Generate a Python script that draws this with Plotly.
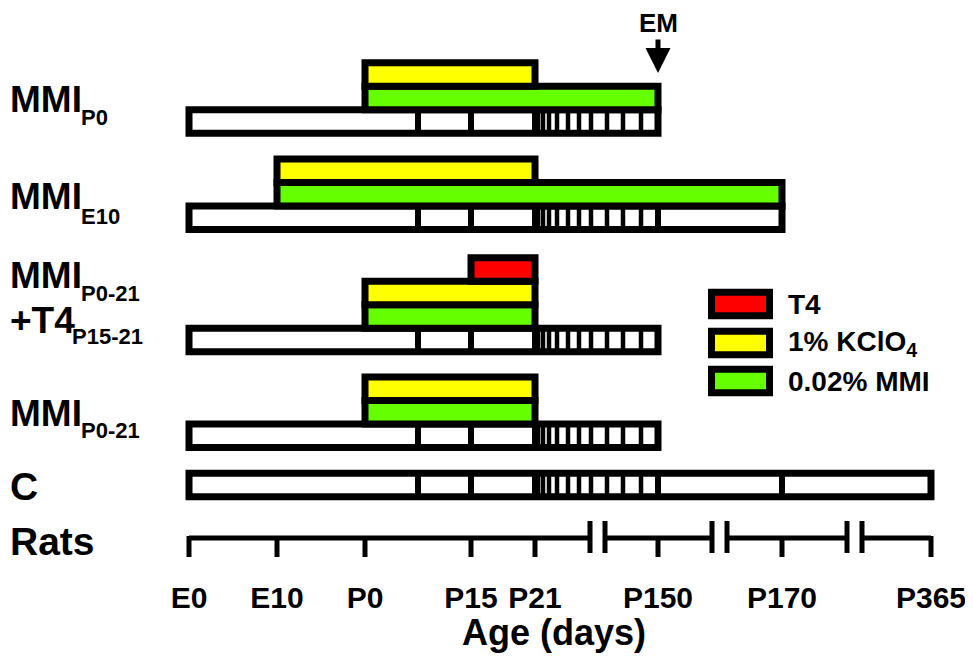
"""
Timeline schematic of MMI / KClO4 / T4 treatments in rats.
"""

import plotly.graph_objects as go

# ---------------------------------------------------------------------------
# DATA
# ---------------------------------------------------------------------------

# schematic positions of the age landmarks along the time axis (not linear)
AGE_LABELS = ["E0", "E10", "P0", "P15", "P21", "P150", "P170", "P365"]
AGE_POS = [0, 88, 176, 282, 346, 469, 593, 742]
POS = dict(zip(AGE_LABELS, AGE_POS))

# intermediate dividers in the white age bars (P7 and the weekly stripes after P21)
MID_DIVIDERS = [229]
STRIPES = [349, 354, 360, 368, 379, 390, 402, 418, 434, 452]

# axis breaks on the "Rats" scale (pairs of break marks)
BREAKS = [(401, 416), (523, 538), (658, 673)]

GROUPS = ["MMI_P0", "MMI_E10", "MMI_P0-21+T4_P15-21", "MMI_P0-21", "C"]
TIMELINE_END = ["P150", "P170", "P150", "P150", "P365"]

MMI_START = ["P0", "E10", "P0", "P0", None]
MMI_END = ["P150", "P170", "P21", "P21", None]
KCLO4_START = ["P0", "E10", "P0", "P0", None]
KCLO4_END = ["P21", "P21", "P21", "P21", None]
T4_START = [None, None, "P15", None, None]
T4_END = [None, None, "P21", None, None]

LEGEND_NAMES = ["T4", "1% KClO<sub>4</sub>", "0.02% MMI"]

# ---------------------------------------------------------------------------
# STYLE
# ---------------------------------------------------------------------------

FONT = "Liberation Sans"
RED = "#FF0000"
YELLOW = "#FFFF00"
GREEN = "#66FF00"
BORDER = 7
BAND = 23.5

OFF = 8                 # page margin the browser adds around the figure
W, H = 973 - OFF, 661 - OFF
AXIS_PX = 575           # page row of the bottom of the plot area
X_ORIGIN = 189          # page column of E0

WHITE_Y = [121.5, 217.7, 340, 435.7, 485]   # band centres of the age bars
RATS_Y = 538

fig = go.Figure()


def band(y, start, end, color):
    fig.add_trace(go.Bar(
        orientation="h",
        y=[y], base=[POS[start]], x=[POS[end] - POS[start]],
        width=BAND,
        marker=dict(color=color, line=dict(color="black", width=BORDER)),
        hoverinfo="skip", showlegend=False,
    ))


# white age bars
for i, g in enumerate(GROUPS):
    band(WHITE_Y[i], "E0", TIMELINE_END[i], "white")

# treatment bands stacked above the age bars
for i, g in enumerate(GROUPS):
    if MMI_START[i]:
        band(WHITE_Y[i] - BAND, MMI_START[i], MMI_END[i], GREEN)
    if KCLO4_START[i]:
        band(WHITE_Y[i] - 2 * BAND, KCLO4_START[i], KCLO4_END[i], YELLOW)
    if T4_START[i]:
        band(WHITE_Y[i] - 3 * BAND, T4_START[i], T4_END[i], RED)

# dividers inside the age bars
for i, g in enumerate(GROUPS):
    end = POS[TIMELINE_END[i]]
    main = MID_DIVIDERS + [POS["P15"], POS["P21"]] + [p for p in (POS["P150"], POS["P170"]) if p < end - 1]
    for divs, lw in ((main, 6), (STRIPES, 4.5)):
        xs, ys = [], []
        for d in divs:
            xs += [d, d, None]
            ys += [WHITE_Y[i] - BAND / 2, WHITE_Y[i] + BAND / 2, None]
        fig.add_trace(go.Scatter(x=xs, y=ys, mode="lines",
                                 line=dict(color="black", width=lw),
                                 hoverinfo="skip", showlegend=False))

# Rats time scale with breaks
seg_x, seg_y = [], []
edges = [POS["E0"]] + [v for b in BREAKS for v in b] + [POS["P365"]]
for a, b in zip(edges[::2], edges[1::2]):
    seg_x += [a, b, None]
    seg_y += [RATS_Y, RATS_Y, None]
for p in AGE_POS:
    seg_x += [p, p, None]
    seg_y += [RATS_Y - 2, RATS_Y + 19, None]
for a, b in BREAKS:
    for v in (a, b):
        seg_x += [v, v, None]
        seg_y += [RATS_Y - 17, RATS_Y + 15, None]
fig.add_trace(go.Scatter(x=seg_x, y=seg_y, mode="lines",
                         line=dict(color="black", width=5),
                         hoverinfo="skip", showlegend=False))

# ---------------------------------------------------------------------------
# Labels
# ---------------------------------------------------------------------------


def label(text, px, y, size, anchor="left"):
    # px is a page column; kept inside the figure's left edge
    fig.add_annotation(x=max(px - OFF, 0) / W, xref="paper", y=y, yref="y",
                       text=f"<b>{text}</b>", showarrow=False,
                       xanchor=anchor, yanchor="middle",
                       font=dict(family=FONT, size=size, color="black"))


BIG, SUB = 37, 22
label("MMI", 6, 99, BIG)
label("P0", 79, 117, SUB)
label("MMI", 6, 196, BIG)
label("E10", 79, 216, SUB)
label("MMI", 6, 275, BIG)
label("P0-21", 79, 293, SUB)
label("+T4", 4, 320, BIG)
label("P15-21", 70, 336, SUB)
label("MMI", 6, 413, BIG)
label("P0-21", 79, 430, SUB)
label("C", 8, 486, 39)
label("Rats", 8, 541, 39)

# legend
LEG_Y = [304, 343, 381]
for name, color, ly in zip(LEGEND_NAMES, [RED, YELLOW, GREEN], LEG_Y):
    fig.add_shape(type="rect", xref="x", yref="y",
                  x0=711.5 - X_ORIGIN, x1=769.5 - X_ORIGIN,
                  y0=ly - BAND / 2, y1=ly + BAND / 2,
                  fillcolor=color, line=dict(color="black", width=BORDER))
    label(name, 786, ly, 28)

# x axis title below the tick labels
fig.add_annotation(x=554 - X_ORIGIN, xref="x",
                   y=(AXIS_PX - 632) / (AXIS_PX - OFF), yref="paper",
                   text="<b>Age (days)</b>", showarrow=False,
                   xanchor="center", yanchor="middle",
                   font=dict(family=FONT, size=36, color="black"))

# EM arrow at P150
fig.add_annotation(x=POS["P150"], y=73, ax=POS["P150"], ay=23, axref="x", ayref="y",
                   text="<b>EM</b>", font=dict(family=FONT, size=26, color="black"),
                   showarrow=True, arrowhead=2, arrowwidth=5, arrowsize=1,
                   arrowcolor="black", standoff=0)

# ---------------------------------------------------------------------------
# Layout
# ---------------------------------------------------------------------------

fig.update_layout(
    width=W, height=H,
    margin=dict(l=0, r=0, t=0, b=H - (AXIS_PX - OFF)),
    plot_bgcolor="white", paper_bgcolor="white",
    barmode="overlay",
    showlegend=False,
    font=dict(family=FONT, color="black"),
)
fig.update_xaxes(
    range=[OFF - X_ORIGIN, 973 - X_ORIGIN],
    tickvals=AGE_POS,
    ticktext=[f"<b>{t}</b>" for t in AGE_LABELS],
    tickfont=dict(family=FONT, size=30, color="black"),
    ticks="", showgrid=False, zeroline=False, showline=False,
    ticklabelstandoff=2,
)
fig.update_yaxes(range=[AXIS_PX, OFF], visible=False, showgrid=False, zeroline=False)

fig.write_html("out.html")
